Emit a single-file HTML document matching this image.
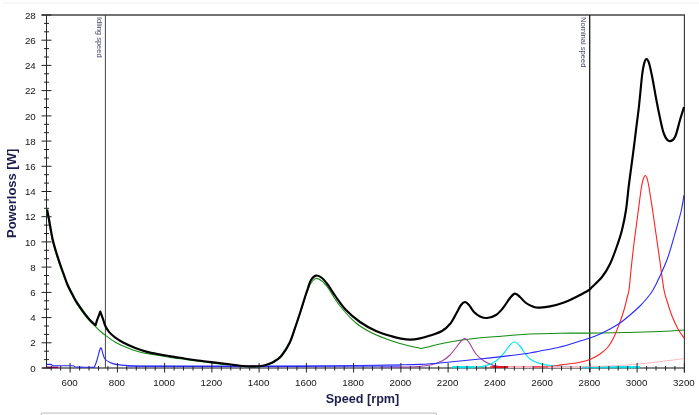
<!DOCTYPE html>
<html lang="en"><head><meta charset="utf-8"><title>Powerloss vs Speed</title>
<style>
html,body{margin:0;padding:0;background:#fff;}
body{width:699px;height:415px;overflow:hidden;position:relative;font-family:"Liberation Sans",Arial,sans-serif;}
</style></head><body>
<svg width="699" height="415" viewBox="0 0 699 415" style="display:block;position:absolute;left:0;top:0;filter:blur(0.4px)">
<rect width="699" height="415" fill="#fff"/>
<rect x="3" y="2.5" width="696" height="1" fill="#efefef"/>
<path d="M41.3 415.5 V413.1 H436.4 V415.5" fill="none" stroke="#bdbdbd" stroke-width="1"/>
<g fill="none">
<path d="M41.5 15.0 H684.9" stroke-width="1.4" stroke="#444"/>
<path d="M684.4 15.0 V372.5" stroke-width="1.1" stroke="#333"/>
<path d="M46.5 15.0 V368.0" stroke-width="1" stroke="#2a2a2a"/>
<path d="M42.3 368.0 H684.4" stroke-width="1.05" stroke="#111"/>
<path d="M105.4 15.0 V368.0" stroke-width="1" stroke="#444"/>
<path d="M589.7 15.0 V372.0" stroke-width="1.3" stroke="#1a1a1a"/>
</g>
<g fill="none" stroke-linejoin="round" stroke-linecap="butt">
<path d="M46.6 210.0 C47.0 212.1 48.1 217.5 49.0 222.5 C49.9 227.5 51.1 235.1 52.2 240.0 C53.3 244.9 54.3 248.0 55.5 252.0 C56.7 256.0 58.1 260.1 59.4 264.0 C60.7 267.9 62.2 272.0 63.5 275.6 C64.8 279.2 65.8 282.4 67.2 285.6 C68.6 288.8 70.2 291.7 71.8 294.8 C73.4 297.9 74.9 301.0 76.8 304.0 C78.7 307.0 80.9 309.9 82.9 312.6 C84.9 315.3 86.8 317.9 88.9 320.2 C91.0 322.5 93.7 324.8 95.5 326.6 C97.3 328.4 98.3 329.5 100.0 331.0 C101.7 332.5 103.3 333.8 105.8 335.6 C108.3 337.4 112.1 340.3 115.0 342.0 C117.9 343.7 119.8 344.6 123.1 346.0 C126.4 347.4 130.8 349.4 134.7 350.6 C138.5 351.9 142.3 352.7 146.2 353.5 C150.0 354.3 153.9 354.7 157.8 355.3 C161.7 355.9 165.7 356.6 169.4 357.2 C173.1 357.8 175.8 358.1 180.0 358.7 C184.2 359.3 189.1 360.1 194.3 360.8 C199.5 361.5 205.9 362.3 211.4 363.0 C216.9 363.7 222.3 364.3 227.1 364.9 C231.9 365.5 235.9 366.0 240.0 366.4 C244.1 366.8 247.6 367.0 251.4 367.0 C255.2 367.0 259.6 367.0 262.9 366.4 C266.2 365.8 269.0 364.6 271.4 363.6 C273.8 362.6 275.2 361.6 277.0 360.3 C278.8 359.0 279.8 358.9 282.0 356.0 C284.2 353.1 287.7 348.0 290.0 343.0 C292.3 338.0 294.3 330.8 296.0 326.0 C297.7 321.2 298.5 318.7 300.0 314.0 C301.5 309.3 303.7 302.0 305.0 298.0 C306.3 294.0 307.0 292.5 308.0 290.0 C309.0 287.5 309.7 284.9 311.0 283.0 C312.3 281.1 314.2 278.7 316.0 278.4 C317.8 278.1 320.0 279.4 322.0 281.0 C324.0 282.6 325.0 283.8 328.0 288.0 C331.0 292.2 335.3 300.2 340.0 306.0 C344.7 311.8 350.7 318.5 356.0 323.0 C361.3 327.5 366.0 330.0 372.0 333.0 C378.0 336.0 387.0 339.2 392.0 341.0 C397.0 342.8 398.3 343.0 402.0 344.0 C405.7 345.0 410.8 346.3 414.0 347.0 C417.2 347.7 419.8 348.2 421.0 348.4 C422.5 348.1 425.2 347.5 430.0 346.4 C434.8 345.3 443.3 343.2 450.0 342.0 C456.7 340.8 463.3 339.8 470.0 339.0 C476.7 338.2 483.3 337.6 490.0 337.0 C496.7 336.4 503.3 335.9 510.0 335.4 C516.7 334.9 521.7 334.4 530.0 334.0 C538.3 333.6 548.3 333.4 560.0 333.2 C571.7 333.0 583.3 333.3 600.0 333.0 C616.7 332.7 646.0 332.1 660.0 331.6 C674.0 331.1 680.0 330.3 684.0 330.0" stroke="#128a12" stroke-width="1.05"/>
<path d="M47 367.4 H58.3" stroke="#85005a" stroke-width="1.6"/>
<path d="M380.0 367.0 C385.0 367.0 401.7 367.3 410.0 367.0 C418.3 366.7 424.7 366.0 430.0 365.0 C435.3 364.0 438.7 362.7 442.0 361.0 C445.3 359.3 447.3 357.7 450.0 355.0 C452.7 352.3 456.0 347.5 458.0 345.0 C460.0 342.5 460.8 341.1 462.0 340.0 C463.2 338.9 464.0 338.4 465.0 338.6 C466.0 338.8 467.2 340.1 468.0 341.0 C468.8 341.9 468.7 341.8 470.0 344.0 C471.3 346.2 473.7 351.2 476.0 354.0 C478.3 356.8 481.0 359.1 484.0 361.0 C487.0 362.9 490.5 364.6 494.0 365.6 C497.5 366.6 503.2 366.8 505.0 367.0" stroke="#a040a0" stroke-width="1.1"/>
<path d="M452.0 367.0 C455.7 367.0 468.3 367.2 474.0 367.0 C479.7 366.8 482.3 366.6 486.0 365.6 C489.7 364.6 493.0 363.1 496.0 361.0 C499.0 358.9 501.7 355.7 504.0 353.0 C506.3 350.3 508.3 346.8 510.0 345.0 C511.7 343.2 512.7 341.8 514.4 342.0 C516.1 342.2 518.4 344.3 520.0 346.0 C521.6 347.7 522.3 349.8 524.0 352.0 C525.7 354.2 527.3 357.1 530.0 359.0 C532.7 360.9 536.3 362.5 540.0 363.6 C543.7 364.7 547.7 365.1 552.0 365.6 C556.3 366.1 561.0 366.2 566.0 366.4 C571.0 366.6 569.7 366.9 582.0 367.0 C594.3 367.1 630.3 367.0 640.0 367.0" stroke="#00e8f0" stroke-width="1.2"/>
<path d="M452.6 367.2 H474 M582 367.2 H640" stroke="#00dde6" stroke-width="2"/>
<path d="M490.0 366.9 C498.3 366.9 529.7 367.0 540.0 366.9 C550.3 366.8 548.5 366.7 552.0 366.4 C555.5 366.1 558.0 365.3 561.0 364.9 C564.0 364.5 566.8 364.2 570.0 363.8 C573.2 363.4 576.5 363.1 580.0 362.3 C583.5 361.5 587.7 360.4 591.0 359.0 C594.3 357.6 597.2 356.0 600.0 354.0 C602.8 352.0 605.7 349.8 608.0 347.0 C610.3 344.2 612.0 341.2 614.0 337.0 C616.0 332.8 618.3 326.5 620.0 322.0 C621.7 317.5 622.8 314.0 624.0 310.0 C625.2 306.0 626.2 301.3 627.0 298.0 C627.8 294.7 628.3 294.7 629.0 290.0 C629.7 285.3 630.1 278.3 631.0 270.0 C631.9 261.7 633.2 249.5 634.4 240.0 C635.6 230.5 636.9 221.3 638.0 213.0 C639.1 204.7 640.2 195.5 641.0 190.0 C641.8 184.5 642.3 182.4 643.0 180.0 C643.7 177.6 644.6 175.3 645.4 175.6 C646.2 175.9 647.1 177.9 648.0 182.0 C648.9 186.1 650.2 194.8 651.0 200.0 C651.8 205.2 652.2 207.3 653.0 213.0 C653.8 218.7 654.8 225.8 656.0 234.0 C657.2 242.2 658.7 252.7 660.0 262.0 C661.3 271.3 662.7 283.0 664.0 290.0 C665.3 297.0 666.7 299.7 668.0 304.0 C669.3 308.3 670.3 311.8 672.0 316.0 C673.7 320.2 676.0 325.3 678.0 329.0 C680.0 332.7 683.0 336.5 684.0 338.0" stroke="#ff2020" stroke-width="1.1"/>
<path d="M492.6 367 H508 M534 367 H548" stroke="#e01020" stroke-width="1.8"/>
<path d="M508 367.2 H534 M548 367.2 H582" stroke="#ffc4cc" stroke-width="1.6"/>
<path d="M508.0 367.2 C516.7 367.2 544.7 367.1 560.0 367.0 C575.3 366.9 590.0 366.6 600.0 366.3 C610.0 366.0 613.8 365.8 620.0 365.4 C626.2 365.0 630.3 364.8 637.0 364.2 C643.7 363.6 652.2 362.5 660.0 361.6 C667.8 360.7 680.0 359.1 684.0 358.6" stroke="#ffb6c1" stroke-width="1"/>
<path d="M128 366.3 H400" stroke="#7474ff" stroke-width="1.9"/>
<path d="M46.9 364.4 C47.6 364.4 50.5 364.4 51.2 364.4 C51.4 364.6 52.4 365.4 52.6 365.6 C56.1 365.6 70.1 365.8 73.6 365.8 C73.8 366.0 74.8 366.8 75.0 367.0 C76.7 367.0 83.3 367.2 85.0 367.2 C86.6 367.2 92.8 367.4 94.4 367.4 C94.8 366.2 96.0 363.2 97.0 360.0 C98.0 356.8 99.6 349.0 100.6 348.0 C101.6 347.0 102.3 352.2 103.0 354.0 C103.7 355.8 103.8 357.6 105.0 359.0 C106.2 360.4 108.2 361.6 110.0 362.5 C111.8 363.4 113.0 363.9 116.0 364.4 C119.0 364.9 122.3 365.3 128.0 365.6 C133.7 365.9 138.0 366.2 150.0 366.3 C162.0 366.4 175.0 366.5 200.0 366.5 C225.0 366.5 268.3 366.6 300.0 366.4 C331.7 366.1 370.0 365.3 390.0 365.0 C410.0 364.7 410.0 364.9 420.0 364.4 C430.0 363.9 440.0 362.9 450.0 362.0 C460.0 361.1 470.0 360.1 480.0 359.0 C490.0 357.9 501.7 356.6 510.0 355.6 C518.3 354.6 525.0 353.8 530.0 353.0 C535.0 352.2 535.0 352.0 540.0 351.0 C545.0 350.0 553.3 348.7 560.0 347.0 C566.7 345.3 575.0 342.5 580.0 341.0 C585.0 339.5 586.7 339.2 590.0 338.0 C593.3 336.8 596.7 335.5 600.0 334.0 C603.3 332.5 606.7 330.8 610.0 329.0 C613.3 327.2 616.7 325.3 620.0 323.0 C623.3 320.7 626.7 317.8 630.0 315.0 C633.3 312.2 637.0 309.0 640.0 306.0 C643.0 303.0 645.8 299.7 648.0 297.0 C650.2 294.3 651.0 293.5 653.0 290.0 C655.0 286.5 657.5 281.5 660.0 276.0 C662.5 270.5 665.3 264.7 668.0 257.0 C670.7 249.3 673.8 237.8 676.0 230.0 C678.2 222.2 680.1 215.8 681.4 210.0 C682.7 204.2 683.6 197.5 684.0 195.0" stroke="#2828ff" stroke-width="1.1"/>
<path d="M47.1 209.5 C47.5 211.6 48.6 217.0 49.5 222.0 C50.4 227.0 51.6 234.6 52.7 239.5 C53.8 244.4 54.8 247.5 56.0 251.5 C57.2 255.5 58.6 259.6 59.9 263.5 C61.2 267.4 62.7 271.4 64.0 275.0 C65.3 278.6 66.3 281.8 67.7 285.0 C69.1 288.2 70.7 291.1 72.3 294.1 C73.9 297.1 75.4 300.2 77.3 303.2 C79.2 306.1 81.4 309.1 83.4 311.8 C85.4 314.5 87.8 317.5 89.4 319.4 C91.0 321.3 92.0 322.0 93.0 323.0 C94.0 324.0 95.2 324.8 95.6 325.2 C95.8 324.4 96.2 322.7 97.0 320.4 C97.8 318.1 99.8 313.1 100.3 311.6 C100.8 312.9 102.3 317.0 103.1 319.4 C103.9 321.8 104.2 323.7 105.2 325.8 C106.2 327.9 107.6 330.2 109.2 332.1 C110.8 334.0 112.7 335.6 115.0 337.3 C117.3 339.0 119.8 340.8 123.1 342.5 C126.4 344.2 130.8 346.2 134.7 347.7 C138.5 349.2 142.3 350.5 146.2 351.6 C150.0 352.7 153.9 353.4 157.8 354.1 C161.7 354.9 165.7 355.5 169.4 356.1 C173.1 356.7 175.8 357.2 180.0 357.8 C184.2 358.4 189.1 359.3 194.3 360.0 C199.5 360.7 205.9 361.4 211.4 362.1 C216.9 362.8 222.3 363.4 227.1 364.0 C231.9 364.6 235.9 365.3 240.0 365.7 C244.1 366.1 247.6 366.4 251.4 366.4 C255.2 366.4 259.6 366.3 262.9 365.7 C266.2 365.1 269.0 363.9 271.4 362.9 C273.8 361.9 275.2 360.8 277.0 359.5 C278.8 358.2 279.8 357.9 282.0 355.0 C284.2 352.1 287.7 347.0 290.0 342.0 C292.3 337.0 294.3 329.8 296.0 325.0 C297.7 320.2 298.5 317.7 300.0 313.0 C301.5 308.3 303.7 301.2 305.0 297.0 C306.3 292.8 307.0 290.8 308.0 288.0 C309.0 285.2 309.7 282.1 311.0 280.0 C312.3 277.9 314.2 275.9 316.0 275.6 C317.8 275.3 320.0 276.4 322.0 278.0 C324.0 279.6 325.7 281.8 328.0 285.0 C330.3 288.2 333.0 292.8 336.0 297.0 C339.0 301.2 342.0 305.8 346.0 310.0 C350.0 314.2 355.0 318.5 360.0 322.0 C365.0 325.5 370.7 328.6 376.0 331.0 C381.3 333.4 388.0 335.2 392.0 336.4 C396.0 337.6 397.0 337.9 400.0 338.4 C403.0 338.9 406.7 339.6 410.0 339.6 C413.3 339.6 416.7 339.1 420.0 338.4 C423.3 337.7 426.3 336.8 430.0 335.6 C433.7 334.4 438.7 332.9 442.0 331.0 C445.3 329.1 447.7 326.8 450.0 324.0 C452.3 321.2 454.2 317.2 456.0 314.0 C457.8 310.8 459.5 307.0 461.0 305.0 C462.5 303.0 463.7 302.0 465.0 302.0 C466.3 302.0 467.5 303.3 469.0 305.0 C470.5 306.7 472.2 310.1 474.0 312.0 C475.8 313.9 477.8 315.4 480.0 316.4 C482.2 317.4 484.3 318.2 487.0 318.0 C489.7 317.8 493.3 316.7 496.0 315.0 C498.7 313.3 500.7 310.8 503.0 308.0 C505.3 305.2 508.0 300.4 510.0 298.0 C512.0 295.6 513.3 293.8 515.0 293.6 C516.7 293.4 518.2 295.4 520.0 297.0 C521.8 298.6 523.7 301.3 526.0 303.0 C528.3 304.7 531.7 306.2 534.0 307.0 C536.3 307.8 537.3 307.7 540.0 307.6 C542.7 307.5 546.0 307.3 550.0 306.4 C554.0 305.5 559.3 304.1 564.0 302.4 C568.7 300.7 573.8 298.1 578.0 296.0 C582.2 293.9 586.7 291.5 589.0 290.0 C591.3 288.5 589.8 289.2 592.0 287.0 C594.2 284.8 599.0 280.8 602.0 277.0 C605.0 273.2 607.5 269.2 610.0 264.0 C612.5 258.8 615.0 251.7 617.0 246.0 C619.0 240.3 620.5 236.0 622.0 230.0 C623.5 224.0 624.8 217.7 626.0 210.0 C627.2 202.3 627.8 193.3 629.0 184.0 C630.2 174.7 631.8 163.0 633.0 154.0 C634.2 145.0 635.0 138.0 636.0 130.0 C637.0 122.0 638.0 115.0 639.0 106.0 C640.0 97.0 641.2 83.0 642.0 76.0 C642.8 69.0 643.3 66.8 644.0 64.0 C644.7 61.2 645.6 59.2 646.4 59.0 C647.2 58.8 648.1 60.2 649.0 63.0 C649.9 65.8 650.8 70.2 652.0 76.0 C653.2 81.8 654.7 91.0 656.0 98.0 C657.3 105.0 658.7 112.0 660.0 118.0 C661.3 124.0 662.5 130.2 664.0 134.0 C665.5 137.8 667.2 140.5 669.0 141.0 C670.8 141.5 673.2 140.5 675.0 137.0 C676.8 133.5 678.5 125.0 680.0 120.0 C681.5 115.0 683.3 109.2 684.0 107.0" stroke="#000" stroke-width="2.15"/>
</g>
<g fill="none" stroke="#222" stroke-width="1">
<path d="M41.5 368.0 H51.5M44.0 359.6 H49.0M44.0 351.2 H49.0M41.5 342.8 H51.5M44.0 334.4 H49.0M44.0 326.0 H49.0M41.5 317.6 H51.5M44.0 309.2 H49.0M44.0 300.8 H49.0M41.5 292.4 H51.5M44.0 284.0 H49.0M44.0 275.5 H49.0M41.5 267.1 H51.5M44.0 258.7 H49.0M44.0 250.3 H49.0M41.5 241.9 H51.5M44.0 233.5 H49.0M44.0 225.1 H49.0M41.5 216.7 H51.5M44.0 208.3 H49.0M44.0 199.9 H49.0M41.5 191.5 H51.5M44.0 183.1 H49.0M44.0 174.7 H49.0M41.5 166.3 H51.5M44.0 157.9 H49.0M44.0 149.5 H49.0M41.5 141.1 H51.5M44.0 132.7 H49.0M44.0 124.3 H49.0M41.5 115.9 H51.5M44.0 107.5 H49.0M44.0 99.0 H49.0M41.5 90.6 H51.5M44.0 82.2 H49.0M44.0 73.8 H49.0M41.5 65.4 H51.5M44.0 57.0 H49.0M44.0 48.6 H49.0M41.5 40.2 H51.5M44.0 31.8 H49.0M44.0 23.4 H49.0M41.5 15.0 H51.5"/>
<path d="M51.2 366.0 V370.5M60.7 366.0 V370.5M70.1 363.0 V372.5M79.6 366.0 V370.5M89.0 366.0 V370.5M98.5 366.0 V370.5M107.9 366.0 V370.5M117.4 363.0 V372.5M126.8 366.0 V370.5M136.3 366.0 V370.5M145.7 366.0 V370.5M155.2 366.0 V370.5M164.6 363.0 V372.5M174.1 366.0 V370.5M183.5 366.0 V370.5M193.0 366.0 V370.5M202.4 366.0 V370.5M211.9 363.0 V372.5M221.3 366.0 V370.5M230.8 366.0 V370.5M240.2 366.0 V370.5M249.7 366.0 V370.5M259.1 363.0 V372.5M268.6 366.0 V370.5M278.0 366.0 V370.5M287.5 366.0 V370.5M296.9 366.0 V370.5M306.4 363.0 V372.5M315.8 366.0 V370.5M325.3 366.0 V370.5M334.7 366.0 V370.5M344.2 366.0 V370.5M353.6 363.0 V372.5M363.1 366.0 V370.5M372.5 366.0 V370.5M382.0 366.0 V370.5M391.4 366.0 V370.5M400.9 363.0 V372.5M410.3 366.0 V370.5M419.8 366.0 V370.5M429.2 366.0 V370.5M438.7 366.0 V370.5M448.1 363.0 V372.5M457.6 366.0 V370.5M467.0 366.0 V370.5M476.5 366.0 V370.5M485.9 366.0 V370.5M495.4 363.0 V372.5M504.8 366.0 V370.5M514.3 366.0 V370.5M523.7 366.0 V370.5M533.2 366.0 V370.5M542.6 363.0 V372.5M552.1 366.0 V370.5M561.5 366.0 V370.5M571.0 366.0 V370.5M580.4 366.0 V370.5M589.9 363.0 V372.5M599.3 366.0 V370.5M608.8 366.0 V370.5M618.2 366.0 V370.5M627.7 366.0 V370.5M637.1 363.0 V372.5M646.6 366.0 V370.5M656.0 366.0 V370.5M665.5 366.0 V370.5M674.9 366.0 V370.5M684.4 363.0 V372.5"/>
</g>
<g font-family="'Liberation Sans', Arial, sans-serif" font-size="9.75" fill="#141414">
<text x="35.8" y="371.6" text-anchor="end">0</text>
<text x="35.8" y="346.4" text-anchor="end">2</text>
<text x="35.8" y="321.2" text-anchor="end">4</text>
<text x="35.8" y="296.0" text-anchor="end">6</text>
<text x="35.8" y="270.7" text-anchor="end">8</text>
<text x="35.8" y="245.5" text-anchor="end">10</text>
<text x="35.8" y="220.3" text-anchor="end">12</text>
<text x="35.8" y="195.1" text-anchor="end">14</text>
<text x="35.8" y="169.9" text-anchor="end">16</text>
<text x="35.8" y="144.7" text-anchor="end">18</text>
<text x="35.8" y="119.5" text-anchor="end">20</text>
<text x="35.8" y="94.2" text-anchor="end">22</text>
<text x="35.8" y="69.0" text-anchor="end">24</text>
<text x="35.8" y="43.8" text-anchor="end">26</text>
<text x="35.8" y="18.6" text-anchor="end">28</text>
<text x="69.6" y="385.8" text-anchor="middle">600</text>
<text x="116.9" y="385.8" text-anchor="middle">800</text>
<text x="164.1" y="385.8" text-anchor="middle">1000</text>
<text x="211.4" y="385.8" text-anchor="middle">1200</text>
<text x="258.6" y="385.8" text-anchor="middle">1400</text>
<text x="305.9" y="385.8" text-anchor="middle">1600</text>
<text x="353.1" y="385.8" text-anchor="middle">1800</text>
<text x="400.4" y="385.8" text-anchor="middle">2000</text>
<text x="447.6" y="385.8" text-anchor="middle">2200</text>
<text x="494.9" y="385.8" text-anchor="middle">2400</text>
<text x="542.1" y="385.8" text-anchor="middle">2600</text>
<text x="589.4" y="385.8" text-anchor="middle">2800</text>
<text x="636.6" y="385.8" text-anchor="middle">3000</text>
<text x="683.9" y="385.8" text-anchor="middle">3200</text>
</g>
<g font-family="'Liberation Sans', Arial, sans-serif" font-weight="bold" fill="#1e1e4e">
<text x="325.7" y="403" font-size="12" textLength="73.6" lengthAdjust="spacingAndGlyphs">Speed [rpm]</text>
<text transform="translate(16.3 238) rotate(-90)" font-size="12" textLength="89.2" lengthAdjust="spacingAndGlyphs">Powerloss [W]</text>
</g>
<g font-family="'Liberation Sans', Arial, sans-serif" font-size="7.55" fill="#3c3c68">
<text transform="translate(97.3 17) rotate(90)">Idling speed</text>
<text transform="translate(580.9 17) rotate(90)">Nominal speed</text>
</g>
</svg>
</body></html>
